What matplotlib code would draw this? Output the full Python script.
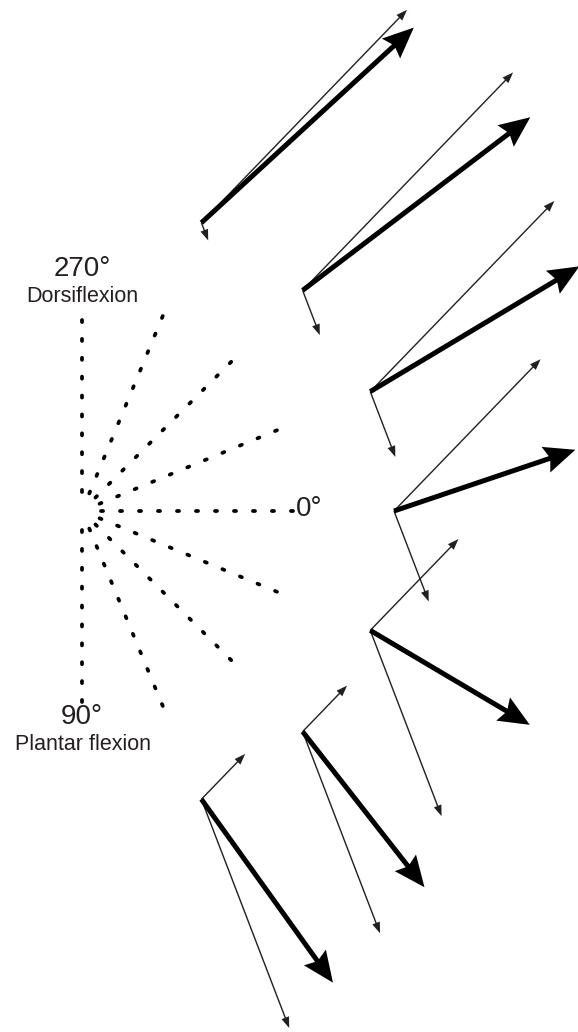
import numpy as np
import matplotlib.pyplot as plt

# Joint angle positions (deg, clockwise from 0°, 270° = dorsiflexion, 90° = plantar flexion)
joint_angles = [292.5, 315, 337.5, 0, 22.5, 45, 67.5]
# Component magnitudes at each position
comp_a = [296, 303, 265, 211, 127, 64, 63]
comp_b = [19, 48, 70, 97, 199, 216, 245]
# Fixed directions of the two components (deg)
dir_a = -46
dir_b = 69

# Reference fan lines
fan_angles = [270, 292.5, 315, 337.5, 0, 22.5, 45, 67.5, 90]
fan_len = [191, 211, 211, 211, 211, 211, 211, 211, 191]

ink = '#231f20'
cx, cy = 82, 511
R = 312
r0 = 19

fig = plt.figure(figsize=(5.78, 10.32), dpi=100)
ax = fig.add_axes([0, 0, 1, 1])
ax.set_xlim(0, 578)
ax.set_ylim(1032, 0)
ax.axis('off')

# dotted fan: stretch the dash period so each line has a dot at both ends
lw = 2.7
lw_px = lw * 100 / 72
on = 0.55 * lw_px
for ang, L in zip(fan_angles, fan_len):
    t = np.radians(ang)
    D = L - r0
    n = round((D - on) / 19)
    gap = (D - on) / n - on
    r = np.array([L, r0])
    ax.plot(cx + r * np.cos(t), cy + r * np.sin(t), color='black', lw=lw,
            linestyle=(0, (on / lw_px, gap / lw_px)), dash_capstyle='round')

txt = dict(ha='center', va='center', color=ink, family='Liberation Sans')
ax.text(cx, 269, '270°', fontsize=20, **txt)
ax.text(cx, 297, 'Dorsiflexion', fontsize=15.5, **txt)
ax.text(cx, 717, '90°', fontsize=20, **txt)
ax.text(cx + 1, 745, 'Plantar flexion', fontsize=15.5, **txt)
ax.text(296, 509, '0°', fontsize=20, ha='left', va='center', color=ink,
        family='Liberation Sans')

ta, tb = np.radians(dir_a), np.radians(dir_b)
for ang, a, b in zip(joint_angles, comp_a, comp_b):
    t = np.radians(ang)
    x0, y0 = cx + R * np.cos(t), cy + R * np.sin(t)
    ax_, ay_ = a * np.cos(ta), a * np.sin(ta)
    bx_, by_ = b * np.cos(tb), b * np.sin(tb)
    for dx, dy in [(ax_, ay_), (bx_, by_)]:
        ax.arrow(x0, y0, dx, dy, width=1.4, head_width=8, head_length=11,
                 length_includes_head=True, color=ink, lw=0)
    ax.arrow(x0, y0, ax_ + bx_, ay_ + by_, width=5, head_width=27, head_length=31,
             overhang=0.12, length_includes_head=True, color='black', lw=0)

fig.savefig('out.png', dpi=100)
